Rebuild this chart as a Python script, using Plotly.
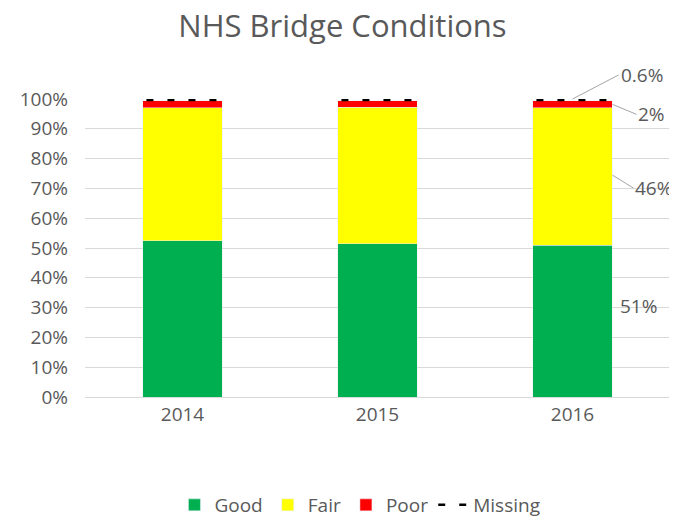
import plotly.graph_objects as go

years = ["2014", "2015", "2016"]
good = [52.5, 51.5, 51.0]
fair = [44.5, 45.7, 46.0]
poor = [2.4, 2.2, 2.4]
missing = [0.6, 0.6, 0.6]
ticks = [0, 10, 20, 30, 40, 50, 60, 70, 80, 90, 100]
tick_text = [f"{t}%" for t in ticks]

font = "Open Sans"
grey = "#595959"
bw = 0.41  # bar width in category units
pos = list(range(len(years)))

fig = go.Figure()
fig.add_trace(go.Bar(name="Good", x=pos, y=good, width=bw, marker_color="#00b050"))
fig.add_trace(go.Bar(name="Fair", x=pos, y=fair, width=bw, marker_color="#ffff00"))
fig.add_trace(go.Bar(name="Poor", x=pos, y=poor, width=bw, marker_color="#ff0000"))

# missing share drawn as a dashed black strip on top of each bar
mx, my = [], []
for i in pos:
    top = good[i] + fair[i] + poor[i] + missing[i] / 2
    mx += [i - bw / 2 + 0.02, i + bw / 2, None]
    my += [top, top, None]
fig.add_trace(go.Scatter(name="Missing", x=mx, y=my, mode="lines", cliponaxis=False,
                         line=dict(color="black", width=2.5, dash="7px,14px")))

# labels on the last bar
i = pos[-1]
g, f, p, m = good[i], fair[i], poor[i], missing[i]
lbl_font = dict(size=19, color=grey, family=font)
lead = dict(showarrow=True, arrowhead=0, arrowwidth=1, arrowcolor="#a6a6a6",
            standoff=0, xanchor="left", font=lbl_font)
fig.add_annotation(x=i, y=g + f + p + m, text=f"{m}%", ax=46, ay=-24, **lead)
fig.add_annotation(x=i + bw / 2, y=g + f + p * 0.5, text=f"{p:.0f}%", ax=24, ay=10, **lead)
fig.add_annotation(x=i + bw / 2, y=g + f * 0.51, text=f"{f:.0f}%", ax=21, ay=13, **lead)
fig.add_annotation(x=i + bw / 2, y=g * 0.6, text=f"{g:.0f}%", showarrow=False,
                   xanchor="left", xshift=6, font=lbl_font)

# page body adds an 8px offset, so the figure is 8px smaller than the window
fig.update_layout(
    barmode="stack",
    width=669, height=510,
    margin=dict(l=77, r=7, t=91, b=121, autoexpand=False),
    paper_bgcolor="white", plot_bgcolor="white",
    font=dict(family=font, color=grey, size=19),
    title=dict(text="NHS Bridge Conditions", x=0.5, xanchor="center",
               y=0.965, yanchor="middle",
               font=dict(size=31, color=grey, family=font)),
    legend=dict(orientation="h", x=0.47, xanchor="center", yref="container",
                y=0.0255, yanchor="middle",
                font=dict(size=19, color=grey), traceorder="normal"),
)
fig.update_xaxes(range=[-0.5, 2.5], tickvals=pos, ticktext=years, showgrid=False,
                 zeroline=False, showline=True, linecolor="#d9d9d9", ticks="",
                 tickfont=dict(size=19))
fig.update_yaxes(range=[0, 100], tickvals=ticks, ticktext=tick_text, showgrid=True,
                 gridcolor="#d9d9d9", zeroline=False, ticks="", tickfont=dict(size=19),
                 ticklabelstandoff=16)

fig.write_html("out.html")
